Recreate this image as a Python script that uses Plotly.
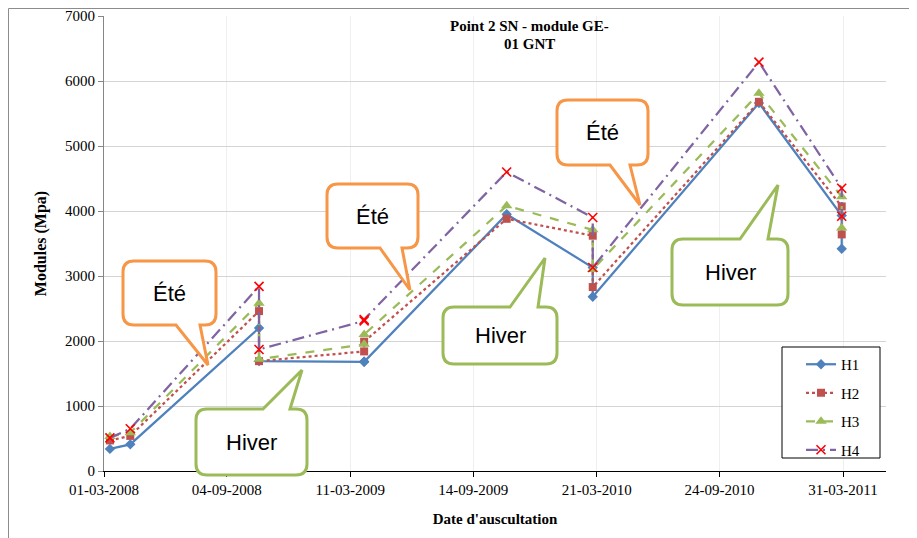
import plotly.graph_objects as go

# ── Data ──────────────────────────────────────────────────────────────────────
DATES = [
    "2008-03-10", "2008-04-10", "2008-10-23", "2008-10-23",
    "2009-04-01", "2009-04-01", "2009-11-04", "2010-03-15",
    "2010-03-15", "2010-11-23", "2011-03-29", "2011-03-29",
]
H1 = [340, 410, 2200, 1690, 1680, 1680, 3950, 3130, 2680, 5660, 3930, 3420]
H2 = [470, 540, 2460, 1690, 1840, 1990, 3880, 3620, 2830, 5680, 4070, 3640]
H3 = [530, 590, 2580, 1720, 1950, 2100, 4080, 3710, 3100, 5810, 4220, 3740]
H4 = [510, 650, 2840, 1870, 2310, 2330, 4600, 3900, 3130, 6290, 4350, 3920]

TICK_DATES = ["2008-03-01", "2008-09-04", "2009-03-11", "2009-09-14",
              "2010-03-21", "2010-09-24", "2011-03-31"]
TICK_TEXT = ["01-03-2008", "04-09-2008", "11-03-2009", "14-09-2009",
             "21-03-2010", "24-09-2010", "31-03-2011"]

# ── Style ─────────────────────────────────────────────────────────────────────
BLUE, RED, GREEN, PURPLE = "#4F81BD", "#C0504D", "#9BBB59", "#8064A2"
ORANGE = "#F79646"
SERIF = "Liberation Serif"
SANS = "Liberation Sans"

# page body has an 8px margin, so the figure is shrunk by that much
OFF = 8
W, H = 917 - OFF, 538 - OFF
# plot area in page pixels: x 104..886, y 16..471
X0, X1, Y0, Y1 = 104, 886, 16, 471
PW, PH = X1 - X0, Y1 - Y0


def px(x):
    return (x - X0) / PW


def py(y):
    return (Y1 - y) / PH


def callout(box, tail, tip, side, r=11):
    """Rounded rectangle callout, page pixel coords -> paper path."""
    x0, y0, x1, y1 = box
    ta, tb = tail
    pts = []

    def p(cmd, *xy):
        s = cmd
        for i in range(0, len(xy), 2):
            s += f" {px(xy[i]):.5f},{py(xy[i + 1]):.5f}"
        pts.append(s)

    p("M", x0 + r, y0)
    if side == "top":
        p("L", ta, y0); p("L", *tip); p("L", tb, y0)
    p("L", x1 - r, y0); p("Q", x1, y0, x1, y0 + r)
    p("L", x1, y1 - r); p("Q", x1, y1, x1 - r, y1)
    if side == "bottom":
        p("L", tb, y1); p("L", *tip); p("L", ta, y1)
    p("L", x0 + r, y1); p("Q", x0, y1, x0, y1 - r)
    p("L", x0, y0 + r); p("Q", x0, y0, x0 + r, y0)
    return " ".join(pts) + " Z"


fig = go.Figure()

series = [
    ("H1", H1, BLUE, "solid", dict(symbol="diamond", size=8, color=BLUE)),
    ("H2", H2, RED, "dot", dict(symbol="square", size=8, color=RED)),
    ("H3", H3, GREEN, "dash", dict(symbol="triangle-up", size=10, color=GREEN)),
    ("H4", H4, PURPLE, "12px,5px,2px,5px",
     dict(symbol="x-thin", size=9, color="red", line=dict(color="red", width=1.6))),
]
for name, vals, col, dash, mk in series:
    fig.add_trace(go.Scatter(
        x=DATES, y=vals, name=name, legendgroup=name, mode="lines+markers",
        line=dict(color=col, width=2.25, dash=dash),
        marker=mk,
    ))

# callouts: (box, tail base, tip, side, text, colour)
CALLOUTS = [
    ((123, 261, 216, 325), (176, 200), (208, 365), "bottom", "Été", ORANGE),
    ((196, 409, 307, 475), (263, 290), (302, 370), "top", "Hiver", GREEN),
    ((327, 184, 418, 248), (380, 402), (410, 290), "bottom", "Été", ORANGE),
    ((443, 307, 557, 364), (510, 538), (545, 258), "top", "Hiver", GREEN),
    ((557, 100, 648, 165), (610, 630), (640, 205), "bottom", "Été", ORANGE),
    ((672, 239, 788, 305), (740, 768), (778, 185), "top", "Hiver", GREEN),
]
shapes = []
annotations = []
for box, tail, tip, side, txt, col in CALLOUTS:
    shapes.append(dict(type="path", xref="paper", yref="paper", layer="above",
                       path=callout(box, tail, tip, side),
                       line=dict(color=col, width=3), fillcolor="white"))
    annotations.append(dict(xref="paper", yref="paper",
                            x=px((box[0] + box[2]) / 2), y=py((box[1] + box[3]) / 2),
                            xanchor="center", yanchor="middle",
                            text=txt, showarrow=False,
                            font=dict(family=SANS, size=22, color="black")))

# legend box (drawn as a shape so its size matches)
shapes.append(dict(type="rect", xref="paper", yref="paper", layer="above",
                   x0=px(782), y0=py(458), x1=px(880), y1=py(347),
                   line=dict(color="black", width=1), fillcolor="white"))

# outer chart frame
shapes.append(dict(type="rect", xref="paper", yref="paper", layer="below",
                   x0=px(8.5), y0=py(600), x1=px(960), y1=py(8.5),
                   line=dict(color="#8c8c8c", width=1)))

for line_txt, y in [("Point 2 SN - module GE-", 26), ("01 GNT", 44)]:
    annotations.append(dict(xref="paper", yref="paper", x=px(529), y=py(y),
                            xanchor="center", yanchor="middle", showarrow=False,
                            text=f"<b>{line_txt}</b>",
                            font=dict(family=SERIF, size=15, color="black")))

fig.update_layout(
    width=W, height=H,
    margin=dict(l=X0 - OFF, r=917 - X1, t=Y0 - OFF, b=538 - Y1, autoexpand=False),
    paper_bgcolor="white", plot_bgcolor="white",
    font=dict(family=SERIF, size=15, color="black"),
    shapes=shapes, annotations=annotations,
    legend=dict(x=px(801), y=py(348), xanchor="left", yanchor="top",
                bgcolor="rgba(0,0,0,0)", borderwidth=0, tracegroupgap=6,
                font=dict(family=SERIF, size=15)),
    showlegend=True,
)
fig.update_xaxes(
    type="date", range=["2008-03-01", "2011-06-04 10:00"],
    tickvals=TICK_DATES, ticktext=TICK_TEXT,
    showgrid=True, gridcolor="#efefef",
    showline=True, linecolor="black", linewidth=1,
    ticks="outside", ticklen=5, tickcolor="black",
    title=dict(text="<b>Date d'auscultation</b>", standoff=16,
               font=dict(family=SERIF, size=15)),
)
fig.update_yaxes(
    range=[0, 7000], dtick=1000,
    showgrid=True, gridcolor="#d4d4d4", zeroline=False,
    showline=True, linecolor="#868686", linewidth=1,
    ticks="outside", ticklen=5, tickcolor="#868686",
    title=dict(text="<b>Modules (Mpa)</b>", standoff=14,
               font=dict(family=SERIF, size=16)),
)

fig.write_html("out.html")
